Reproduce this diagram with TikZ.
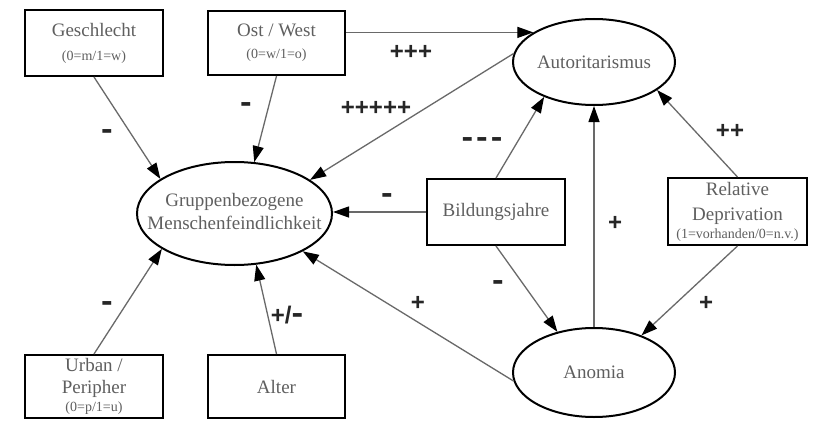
\documentclass[tikz,border=0pt]{standalone}
\usepackage{fontspec}
\setmainfont{Liberation Serif}
\newfontfamily\lblfont{Liberation Sans}
\usetikzlibrary{arrows.meta,shapes.geometric}
\definecolor{txtgray}{RGB}{95,95,95}
\definecolor{linegray}{RGB}{105,105,105}
\newcommand{\smalltxt}{\fontsize{14}{16}\selectfont}
\newcommand{\minus}{\scalebox{1.45}[1.3]{-}}
\begin{document}
\begin{tikzpicture}[x=1pt,y=-1pt,
  varbox/.style={draw=black,line width=2pt,rectangle,inner sep=0pt,text=txtgray,align=center,font=\fontsize{19}{22}\selectfont},
  latent/.style={draw=black,line width=2pt,ellipse,inner sep=0pt,text=txtgray,font=\fontsize{19}{23}\selectfont},
  pathline/.style={draw=linegray,line width=1.3pt,-{Triangle[length=16pt,width=11pt,color=black]}},
  sign/.style={font=\lblfont\bfseries\fontsize{24}{26}\selectfont,text=black!85,inner sep=0pt}]
\useasboundingbox (0,0) rectangle (813,420);
\fill[white] (0,0) rectangle (813,420);
% observed variables
\node[varbox,minimum width=138pt,minimum height=66pt] (gs) at (94,43) {Geschlecht\\[2pt]{\smalltxt(0=m/1=w)}};
\node[varbox,minimum width=137pt,minimum height=64pt] (ow) at (276.5,43) {Ost / West\\{\smalltxt(0=w/1=o)}};
\node[varbox,minimum width=138pt,minimum height=66pt] (bj) at (496,212) {Bildungsjahre};
\node[varbox,minimum width=139pt,minimum height=67pt] (rd) at (737.5,211.5) {Relative\\[3pt]Deprivation\\[-4pt]{\smalltxt(1=vorhanden/0=n.v.)}};
\node[varbox,minimum width=138pt,minimum height=63pt] (ub) at (94,386.5) {Urban /\\Peripher\\[-4pt]{\smalltxt(0=p/1=u)}};
\node[varbox,minimum width=137pt,minimum height=63pt] (al) at (276.5,386.5) {Alter};
% latent variables
\node[latent,minimum width=162pt,minimum height=86pt] (aut) at (594,62) {\makebox[0pt]{Autoritarismus}};
\node[latent,minimum width=195pt,minimum height=103pt] (gmf) at (234.5,213.5) {\makebox[0pt]{\begin{tabular}{@{}c@{}}Gruppenbezogene\\Menschenfeindlichkeit\end{tabular}}};
\node[latent,minimum width=162pt,minimum height=89pt] (ano) at (594,372.5) {\makebox[0pt]{Anomia}};
% paths
\draw[pathline] (ow.east |- aut.154) -- (aut.154);
\draw[pathline] (aut.174) -- (gmf.24);
\draw[pathline] (gs.south) -- (gmf.155);
\draw[pathline] (ow.south) -- (gmf.69);
\draw[pathline] (bj.west) -- (gmf.east |- bj.west);
\draw[pathline] (ub.north) -- (gmf.206.6);
\draw[pathline] (al.north) -- (gmf.293);
\draw[pathline] (ano.186) -- (gmf.331);
\draw[pathline] (bj.north) -- (aut.215);
\draw[pathline] (ano.north) -- (aut.south);
\draw[pathline] (bj.south) -- (ano.132);
\draw[pathline] (rd.north) -- (aut.336);
\draw[pathline] (rd.south) -- (ano.38.5);
% signs
\node[sign] (s1) at (411,52) {+++};
\node[sign] (s2) at (376,108) {+++++};
\node[sign] (s3) at (107,135) {\minus};
\node[sign] (s4) at (246,108) {\minus};
\node[sign] (s5) at (482,143) {\minus\hspace{3pt}\minus\hspace{3pt}\minus};
\node[sign] (s6) at (387,199) {\minus};
\node[sign] (s7) at (615,223) {+};
\node[sign] (s8) at (730,131) {++};
\node[sign] (s9) at (107,307) {\minus};
\node[sign] (s10) at (287,315) {+/\minus};
\node[sign] (s11) at (418,303) {+};
\node[sign] (s12) at (498,286) {\minus};
\node[sign] (s13) at (706,303) {+};
\end{tikzpicture}
\end{document}
